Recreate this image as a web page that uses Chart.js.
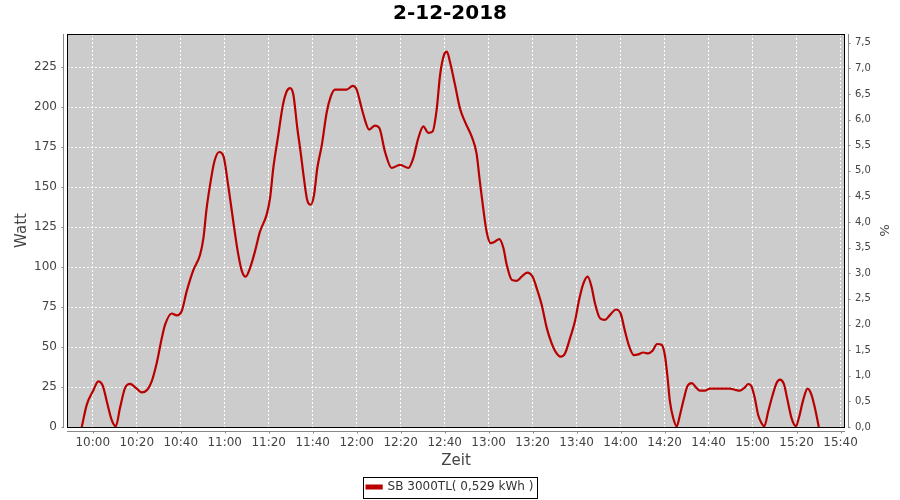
<!DOCTYPE html>
<html><head><meta charset="utf-8">
<script src="https://cdn.jsdelivr.net/npm/chart.js@4"></script>
<style>html,body{margin:0;padding:0;background:#fff}#wrap{width:900px;height:500px}</style>
</head><body><div id="wrap"><canvas id="c" width="900" height="500"></canvas></div>
<script>
const chartTitle = '2-12-2018';
const seriesLabel = 'SB 3000TL( 0,529 kWh )';
const xAxisTitle = 'Zeit';
const yAxisTitle = 'Watt';
const y2AxisTitle = '%';
// minutes after 10:00
const minutesAfter10 = [
 -5,-2.7,0.3,2.5,4.5,6.4,8.6,10.5,12.4,14.7,17,19.2,22.3,24.8,26.8,29.1,31.4,32.9,35.9,38.2,
 40.5,42.7,45.7,48.8,50.3,51.8,53.3,55.3,57.5,59.4,61.6,63.9,65.9,67.7,69.5,71.5,73.8,76,79.1,80.6,
 82.1,84.4,86.4,88.2,89.7,91.2,93,94.5,96,97.5,99.1,100.6,102.1,104.1,106.4,108.2,110.1,112.4,115.4,118.2,
 120,121.5,123,125.7,128.3,130.3,132.9,135.9,139.7,143.5,145.7,148,150.3,152.5,154.5,156.4,157.9,159.7,161,162.4,
 164.7,167,169.2,172.3,174.5,176,177.5,179.1,180.9,182.9,184.8,186.7,188.2,190.5,192.7,195,197.5,200,201.8,204.1,
 206.4,208.6,210.9,212.7,214.7,217,219.2,221.2,223,225,226.8,228.3,230.6,232.9,235.1,237.9,240,242,243.9,246,
 248,250.3,252.5,254.5,256.6,258.6,260.1,261.2,262.4,263.9,265.5,267,268.8,270.3,272.3,274.5,276,278.3,280.6,285.1,
 289.7,291.9,294.2,296.5,298,299.5,301,302.5,304,305.3,307.1,309.1,310.9,312.4,314.2,315.7,317.7,319.7,321.2,323,
 325,326.8,328.3,330.1
];
const watt = [
 0,14,23,28.5,26,16,4.5,0.5,12,24.5,27,25,21.6,23.3,28.5,40,55.6,64,71,69.8,
 72.7,84.8,98,107.7,118,137,151,166,172,169.6,151,128.5,110,98,94,99.4,110,122,133,143,
 162,183,201,210,212,208,187,172,155.6,142,139,145,162,176,197,206.6,211,211,211,213.3,
 211,203.5,195.6,186,188.5,187,172,162,164,162,168,180.6,188,184,184.8,199,220,232.7,234.8,228.5,
 214,199,191,181.6,171,153.5,137,122,115,116,117.5,112,101.5,92,91.4,94,96.6,94,87,76.4,
 62,52.5,46,44,46,55.6,66,80,89.5,94,87.5,77.5,68,67,70,73.5,71,59.8,50.4,45,
 45.4,46.6,46,47.7,51.9,51.4,45,32.7,16,5.6,0.4,7.7,18,25.4,27.5,24.4,22.7,22.7,24,24,
 24,23.3,22.7,24.8,26.9,25.4,18,7.7,2.5,0.5,9.8,20,27.5,29.6,26.9,18,5.6,0.5,6.6,17,
 24,20,12,0
];
const xTickMinutes = [0,20,40,60,80,100,120,140,160,180,200,220,240,260,280,300,320,340];
const wattTicks = [0,25,50,75,100,125,150,175,200,225];
const percentTicks = [0,0.5,1,1.5,2,2.5,3,3.5,4,4.5,5,5.5,6,6.5,7,7.5];

const BASE = 600; // 10:00 in minutes of day
const points = minutesAfter10.map((m, i) => ({x: BASE + m, y: watt[i]}));
const FONT = 'DejaVu Sans';
const AXIS_GREY = '#888888';

const deco = {
  id: 'deco',
  afterLayout(chart) {
    const l = chart.legend;
    if (l) {
      l.top += 3; l.bottom += 3;
      if (typeof l.adjustHitBoxes === 'function') l.adjustHitBoxes();
    }
  },
  beforeDraw(chart) {
    const {ctx, chartArea: a} = chart;
    ctx.save();
    ctx.fillStyle = '#ffffff';
    ctx.fillRect(0, 0, chart.width, chart.height);
    ctx.fillStyle = '#CCCCCC';
    ctx.fillRect(a.left, a.top, a.right - a.left, a.bottom - a.top);
    ctx.restore();
  },
  afterDatasetsDraw(chart) {
    const {ctx, chartArea: a} = chart;
    ctx.save();
    ctx.strokeStyle = '#000000';
    ctx.lineWidth = 1;
    ctx.strokeRect(a.left + 0.5, a.top + 0.5, a.right - a.left - 1, a.bottom - a.top);
    ctx.restore();
  },
  afterDraw(chart) {
    const {ctx, chartArea: a, scales} = chart;
    ctx.save();
    ctx.strokeStyle = AXIS_GREY;
    ctx.lineWidth = 1;
    ctx.beginPath();
    const lx = a.left - 3.5;
    ctx.moveTo(lx, a.top); ctx.lineTo(lx, a.bottom + 1);
    scales.y.ticks.forEach(t => { const py = Math.round(scales.y.getPixelForValue(t.value)) + 0.5; ctx.moveTo(lx - 2, py); ctx.lineTo(lx, py); });
    const rx = a.right + 3.5;
    ctx.moveTo(rx, a.top); ctx.lineTo(rx, a.bottom + 1);
    scales.y2.ticks.forEach(t => { const py = Math.round(scales.y2.getPixelForValue(t.value)) + 0.5; ctx.moveTo(rx, py); ctx.lineTo(rx + 2, py); });
    const by = a.bottom + 4.5;
    ctx.moveTo(a.left, by); ctx.lineTo(a.right, by);
    scales.x.ticks.forEach(t => { const px = Math.round(scales.x.getPixelForValue(t.value)) + 0.5; ctx.moveTo(px, by); ctx.lineTo(px, by + 2); });
    ctx.stroke();
    const l = chart.legend;
    const hb = l && l.legendHitBoxes && l.legendHitBoxes[0];
    if (hb) {
      ctx.strokeStyle = '#000000';
      ctx.strokeRect(Math.round(hb.left - 4) + 0.5, Math.round(l.top - 2) + 0.5, Math.round(hb.width + 7), 21);
    }
    ctx.restore();
  }
};

new Chart(document.getElementById('c'), {
  type: 'line',
  data: {
    datasets: [{
      label: seriesLabel,
      data: points,
      borderColor: '#B80000',
      backgroundColor: '#B80000',
      borderWidth: 2.2,
      pointRadius: 0,
      fill: false,
      cubicInterpolationMode: 'monotone',
      yAxisID: 'y'
    }]
  },
  options: {
    responsive: false,
    animation: false,
    layout: {padding: 0},
    plugins: {
      title: {
        display: true, text: chartTitle, color: '#000',
        font: {family: FONT, size: 20, weight: 'bold', lineHeight: 1.2},
        padding: {top: 2, bottom: 8}
      },
      legend: {
        display: true, position: 'bottom',
        labels: {
          color: '#333', font: {family: FONT, size: 12},
          boxWidth: 15, boxHeight: 3, padding: 2
        }
      },
      tooltip: {enabled: false}
    },
    scales: {
      x: {
        type: 'linear', min: BASE - 11.7, max: BASE + 342,
        afterFit(s) { const lh = s.chart.legend ? s.chart.legend.height : 24; s.height = 500 - 427 - lh; },
        afterBuildTicks(s) { s.ticks = xTickMinutes.map(m => ({value: BASE + m})); },
        ticks: {
          autoSkip: false, maxRotation: 0, padding: 9, color: '#444',
          font: {family: FONT, size: 12},
          callback: v => { const h = Math.floor(v / 60), m = Math.round(v % 60); return h + ':' + String(m).padStart(2, '0'); }
        },
        grid: {color: '#ffffff', drawTicks: false, lineWidth: 1},
        border: {display: false, dash: [2, 2]},
        title: {display: true, text: xAxisTitle, color: '#444', font: {family: FONT, size: 15}, padding: {top: 0, bottom: 6}}
      },
      y: {
        type: 'linear', position: 'left', min: 0, max: 245.8,
        afterFit(s) { s.width = 67; },
        afterBuildTicks(s) { s.ticks = wattTicks.map(v => ({value: v})); },
        ticks: {autoSkip: false, padding: 10, color: '#444', font: {family: FONT, size: 12}},
        grid: {color: '#ffffff', drawTicks: false, lineWidth: 1},
        border: {display: false, dash: [2, 2]},
        title: {display: true, text: yAxisTitle, color: '#444', font: {family: FONT, size: 15}, padding: {top: 13, bottom: 0}}
      },
      y2: {
        type: 'linear', position: 'right', min: 0, max: 7.67,
        afterFit(s) { s.width = 55; },
        afterBuildTicks(s) { s.ticks = percentTicks.map(v => ({value: v})); },
        ticks: {
          autoSkip: false, padding: 10, color: '#444', font: {family: FONT, size: 10},
          callback: v => v.toFixed(1).replace('.', ',')
        },
        grid: {drawOnChartArea: false, drawTicks: false},
        border: {display: false},
        title: {display: true, text: y2AxisTitle, color: '#444', font: {family: FONT, size: 13}, padding: {top: 9, bottom: 0}}
      }
    }
  },
  plugins: [deco]
});
</script>
</body></html>
